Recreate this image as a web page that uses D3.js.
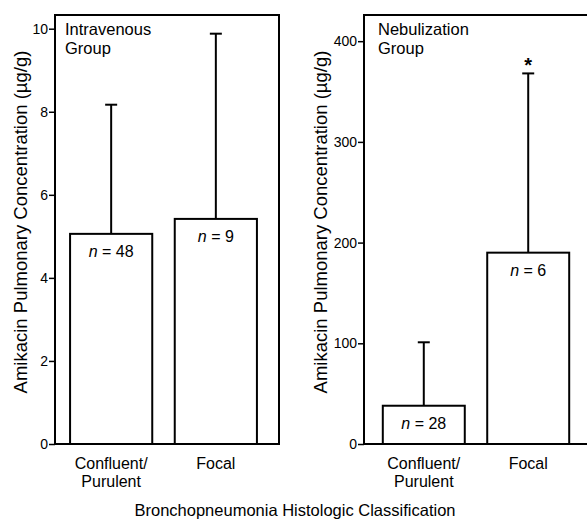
<!DOCTYPE html>
<html>
<head>
<meta charset="utf-8">
<script src="https://cdn.jsdelivr.net/npm/d3@7"></script>
<style>
  body { margin: 0; background: #fff; }
  svg { display: block; }
  text { font-family: "Liberation Sans", Arial, sans-serif; fill: #000; }
</style>
</head>
<body>
<div id="container"></div>
<script>
var categories = ['Confluent/Purulent', 'Focal']
var ivMeans = [5.06, 5.42]
var ivUpper = [8.17, 9.88]
var ivN = [48, 9]
var nebMeans = [38, 190]
var nebUpper = [101, 368]
var nebN = [28, 6]
var ivTicks = [0, 2, 4, 6, 8, 10]
var nebTicks = [0, 100, 200, 300, 400]

var svg = d3.select('#container').append('svg').attr('width', 587).attr('height', 523)

function panel(opt) {
  var g = svg.append('g')
  var y = d3.scaleLinear().domain([0, opt.max]).range([444, 15])
  var x = d3.scaleBand().domain(categories).range([opt.left, opt.bandEnd])
    .paddingInner(0.215).paddingOuter(opt.outer)

  // frame
  g.append('path')
    .attr('d', 'M' + opt.left + ',444V15H' + opt.right + (opt.closed ? 'V444' : ''))
    .attr('fill', 'none').attr('stroke', '#000').attr('stroke-width', 2)
  g.append('line').attr('x1', opt.left - 1).attr('x2', opt.right + 1)
    .attr('y1', 444).attr('y2', 444).attr('stroke', '#000').attr('stroke-width', 2)

  var axis = g.append('g').attr('transform', 'translate(' + opt.left + ',0)')
    .call(d3.axisLeft(y).tickValues(opt.ticks).tickSize(6).tickPadding(1).tickSizeOuter(0))
  axis.select('.domain').remove()
  axis.selectAll('line').attr('stroke-width', 1.5)
  axis.selectAll('text').style('font-size', '14px').style('font-family', '"Liberation Sans", Arial, sans-serif')

  var bars = g.selectAll('g.bar').data(categories).enter().append('g').attr('class', 'bar')

  // error bars
  bars.append('line')
    .attr('x1', function (d) { return x(d) + x.bandwidth() / 2 })
    .attr('x2', function (d) { return x(d) + x.bandwidth() / 2 })
    .attr('y1', function (d, i) { return y(opt.means[i]) })
    .attr('y2', function (d, i) { return y(opt.upper[i]) })
    .attr('stroke', '#000').attr('stroke-width', 2)
  bars.append('line')
    .attr('x1', function (d) { return x(d) + x.bandwidth() / 2 - 6 })
    .attr('x2', function (d) { return x(d) + x.bandwidth() / 2 + 6 })
    .attr('y1', function (d, i) { return y(opt.upper[i]) })
    .attr('y2', function (d, i) { return y(opt.upper[i]) })
    .attr('stroke', '#000').attr('stroke-width', 2)

  bars.append('rect')
    .attr('x', function (d) { return x(d) })
    .attr('width', x.bandwidth())
    .attr('y', function (d, i) { return y(opt.means[i]) })
    .attr('height', function (d, i) { return 444 - y(opt.means[i]) })
    .attr('fill', '#fff').attr('stroke', '#000').attr('stroke-width', 2)

  var nt = bars.append('text')
    .attr('x', function (d) { return x(d) + x.bandwidth() / 2 })
    .attr('y', function (d, i) { return y(opt.means[i]) + 23 })
    .attr('text-anchor', 'middle').style('font-size', '16px')
  nt.append('tspan').style('font-style', 'italic').text('n')
  nt.append('tspan').text(function (d, i) { return ' = ' + opt.n[i] })

  // category labels
  var cl = g.selectAll('text.cat').data(categories).enter().append('text').attr('class', 'cat')
    .attr('text-anchor', 'middle').style('font-size', '16px')
  cl.each(function (d) {
    var parts = d === 'Focal' ? ['Focal'] : ['Confluent/', 'Purulent']
    var t = d3.select(this)
    parts.forEach(function (p, k) {
      t.append('tspan').attr('x', x(d) + x.bandwidth() / 2).attr('y', 469 + k * 18).text(p)
    })
  })

  // group label
  var gl = g.append('text').style('font-size', '16.5px')
  gl.append('tspan').attr('x', opt.titleX).attr('y', 35).text(opt.title)
  gl.append('tspan').attr('x', opt.titleX).attr('y', 54).text('Group')

  g.append('text')
    .attr('transform', 'translate(' + opt.labelX + ',' + 222 + ') rotate(-90)')
    .attr('text-anchor', 'middle').style('font-size', '18.5px')
    .text('Amikacin Pulmonary Concentration (\u00b5g/g)')

  return { x: x, y: y, g: g }
}

panel({ left: 55, right: 279, bandEnd: 272, outer: 0.144, max: 10.33, ticks: ivTicks,
  means: ivMeans, upper: ivUpper, n: ivN, title: 'Intravenous', titleX: 65, labelX: 27, closed: true })
var neb = panel({ left: 364, right: 590, bandEnd: 588, outer: 0.18, max: 426, ticks: nebTicks,
  means: nebMeans, upper: nebUpper, n: nebN, title: 'Nebulization', titleX: 378, labelX: 327, closed: false })

// significance marker
neb.g.append('text')
  .attr('x', neb.x('Focal') + neb.x.bandwidth() / 2)
  .attr('y', neb.y(nebUpper[1]) - 1)
  .attr('text-anchor', 'middle').style('font-size', '20px').style('font-weight', 'bold')
  .text('*')

svg.append('text').attr('x', 295).attr('y', 516).attr('text-anchor', 'middle')
  .style('font-size', '16.5px').text('Bronchopneumonia Histologic Classification')
</script>
</body>
</html>
